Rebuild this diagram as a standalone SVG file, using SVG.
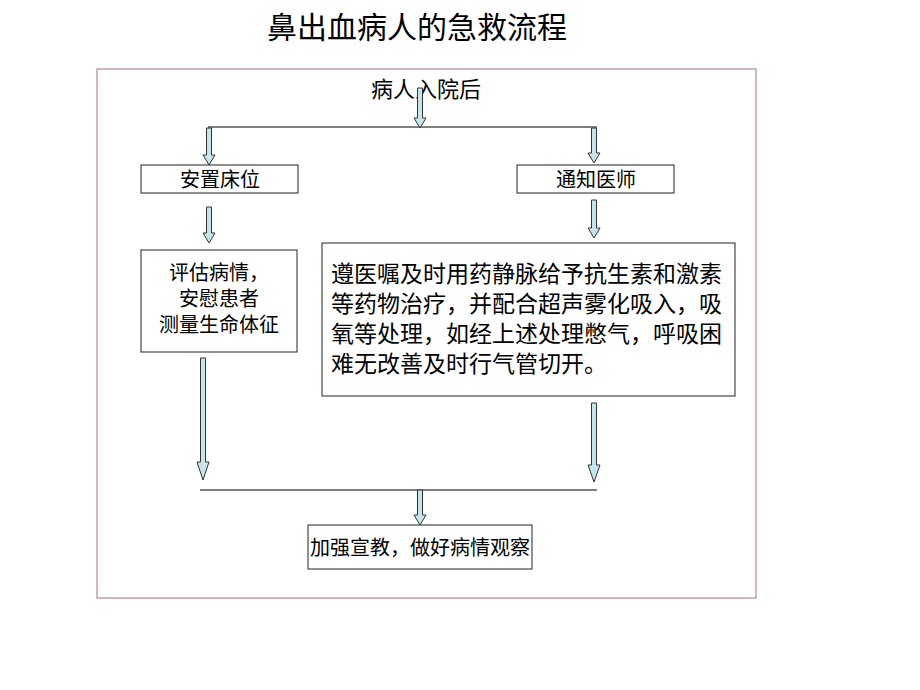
<svg xmlns="http://www.w3.org/2000/svg" width="920" height="690" viewBox="0 0 920 690">
<style>
.b{fill:#fff;stroke:#222;stroke-width:1}
.t{font-family:"Liberation Serif","Noto Sans CJK SC",serif;fill:#000}
.a{fill:#c6e4ec;stroke:#333;stroke-width:1}
.l{stroke:#000;stroke-width:1.2;fill:none}
</style>
<rect width="920" height="690" fill="#fff"/>
<text class="t" x="417" y="38" font-size="30" text-anchor="middle">鼻出血病人的急救流程</text>
<rect x="97" y="69" width="659" height="529" fill="none" stroke="#a07090" stroke-width="1"/>
<g id="n0"><text class="t" x="426" y="97" font-size="22" text-anchor="middle">病人入院后</text></g>
<g id="n1"><rect class="b" x="141" y="165" width="157" height="28"/><text class="t" x="220" y="187" font-size="20" text-anchor="middle">安置床位</text></g>
<g id="n2"><rect class="b" x="517" y="165" width="157" height="28"/><text class="t" x="596" y="187" font-size="20" text-anchor="middle">通知医师</text></g>
<g id="n3"><rect class="b" x="141" y="250" width="156" height="102"/>
<text class="t" font-size="20" text-anchor="middle"><tspan x="219" y="280">评估病情，</tspan><tspan x="219" y="306">安慰患者</tspan><tspan x="219" y="332">测量生命体征</tspan></text></g>
<g id="n4"><rect class="b" x="322" y="243" width="413" height="153"/>
<text class="t" font-size="23"><tspan x="331" y="282">遵医嘱及时用药静脉给予抗生素和激素</tspan><tspan x="331" y="312">等药物治疗，并配合超声雾化吸入，吸</tspan><tspan x="331" y="342">氧等处理，如经上述处理憋气，呼吸困</tspan><tspan x="331" y="372">难无改善及时行气管切开。</tspan></text></g>
<g id="n5"><rect class="b" x="308" y="525" width="224" height="44"/><text class="t" x="420" y="555" font-size="20" text-anchor="middle">加强宣教，做好病情观察</text></g>
<g id="connectors">
<path class="l" d="M208 127H597M200 490H597"/>
<path class="a" d="M417.5 88h5v30h3.5l-6 10l-6-10h3.5z"/>
<path class="a" d="M206.5 128h5v27h3.5l-6 10l-6-10h3.5z"/>
<path class="a" d="M591.5 128h5v25h3.5l-6 10l-6-10h3.5z"/>
<path class="a" d="M206.5 207h5v26h3.5l-6 10l-6-10h3.5z"/>
<path class="a" d="M591.5 200h5v28h3.5l-6 10l-6-10h3.5z"/>
<path class="a" d="M200.5 358h5v104h3.5l-6 18l-6-18h3.5z"/>
<path class="a" d="M591.5 403h5v62h3.5l-6 17l-6-17h3.5z"/>
<path class="a" d="M417.5 490h5v25h3.5l-6 10l-6-10h3.5z"/>
</g>
</svg>
